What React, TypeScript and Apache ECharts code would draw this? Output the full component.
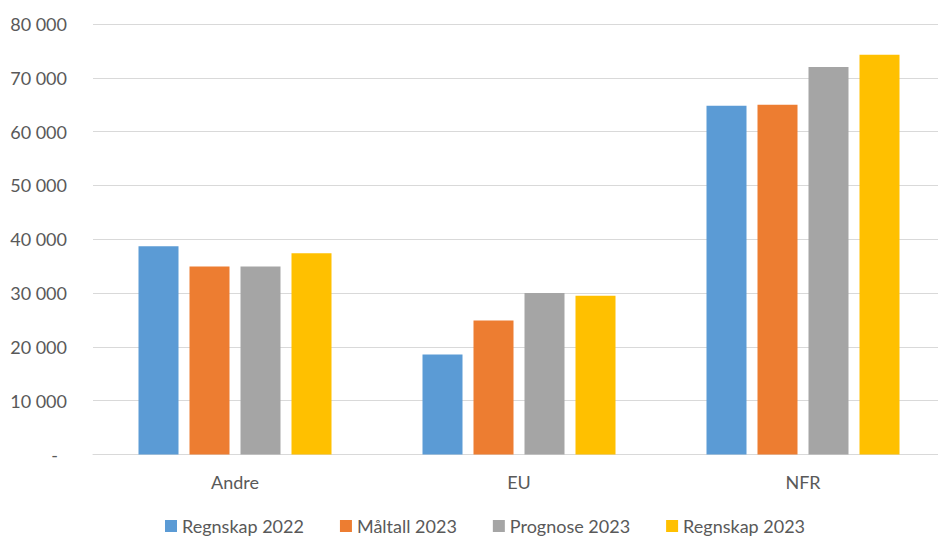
import React, { useEffect, useRef } from "react";
import * as echarts from "echarts";

const categories = ["Andre", "EU", "NFR"];
const seriesNames = ["Regnskap 2022", "Måltall 2023", "Prognose 2023", "Regnskap 2023"];
const regnskap2022 = [38700, 18600, 64800];
const maltall2023 = [34950, 24900, 65000];
const prognose2023 = [34950, 30000, 72000];
const regnskap2023 = [37400, 29500, 74300];
const colors = ["#5B9BD5", "#ED7D31", "#A5A5A5", "#FFC000"];

const fmt = (v: number) => {
  if (v === 0) return "-\u2002";
  const s = String(Math.round(v));
  return s.replace(/\B(?=(\d{3})+(?!\d))/g, "\u00a0");
};

export default function App() {
  const ref = useRef<HTMLDivElement>(null);
  useEffect(() => {
    document.body.style.margin = "0";
    document.body.style.overflow = "hidden";
    const chart = echarts.init(ref.current!, undefined, { renderer: "svg" });
    const font = "Lato, 'Open Sans', sans-serif";
    const data = [regnskap2022, maltall2023, prognose2023, regnskap2023];
    chart.setOption({
      animation: false,
      textStyle: { fontFamily: font },
      grid: { left: 93, right: 0, top: 24, bottom: 83.5 },
      legend: {
        top: 512,
        left: 160,
        itemWidth: 12,
        itemHeight: 12,
        itemGap: 36,
        icon: "rect",
        textStyle: { fontSize: 18, color: "#595959", fontFamily: font },
        data: seriesNames,
      },
      xAxis: {
        type: "category",
        data: categories,
        axisTick: { show: false },
        axisLine: { lineStyle: { color: "#d9d9d9", width: 1 } },
        axisLabel: { fontSize: 18, color: "#595959", margin: 18, fontFamily: font },
      },
      yAxis: {
        type: "value",
        min: 0,
        max: 80000,
        interval: 10000,
        axisLine: { show: false },
        axisTick: { show: false },
        splitLine: { lineStyle: { color: "#d9d9d9", width: 1 } },
        axisLabel: { fontSize: 18, color: "#595959", margin: 26, formatter: fmt, fontFamily: font },
      },
      series: seriesNames.map((name, i) => ({
        name,
        type: "bar",
        data: data[i],
        barWidth: 40,
        barGap: "27.5%",
        itemStyle: { color: colors[i] },
      })),
    });
    return () => chart.dispose();
  }, []);
  return (
    <div style={{ width: 938, height: 538, overflow: "hidden", position: "relative" }}>
      <div ref={ref} style={{ width: 945, height: 538 }} />
    </div>
  );
}
